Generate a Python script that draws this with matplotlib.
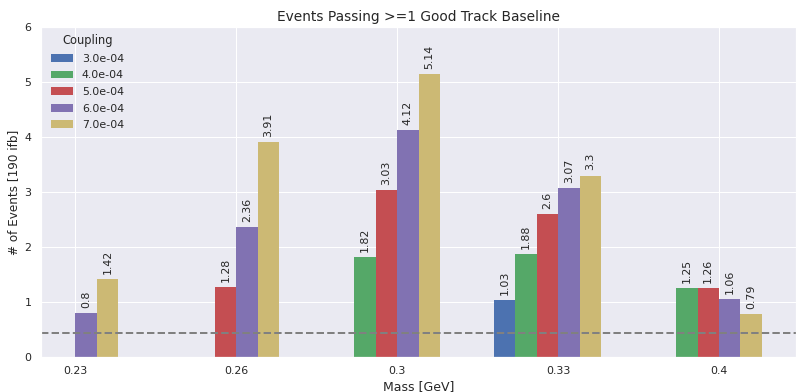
import numpy as np
import matplotlib
matplotlib.use('Agg')
import matplotlib.pyplot as plt
import seaborn as sns

masses = ['0.23', '0.26', '0.3', '0.33', '0.4']
couplings = ['3.0e-04', '4.0e-04', '5.0e-04', '6.0e-04', '7.0e-04']
nan = np.nan
c3e4 = [nan, nan, nan, 1.03, nan]
c4e4 = [nan, nan, 1.82, 1.88, 1.25]
c5e4 = [nan, 1.28, 3.03, 2.6, 1.26]
c6e4 = [0.8, 2.36, 4.12, 3.07, 1.06]
c7e4 = [1.42, 3.91, 5.14, 3.3, 0.79]
baseline = 0.43

colors = ['#4C72B0', '#55A868', '#C44E52', '#8172B2', '#CCB974']

sns.set_theme(style='darkgrid')
plt.rcParams['font.family'] = ['DejaVu Sans']

fig, ax = plt.subplots(figsize=(797 / 72, 392 / 72), dpi=72)
fig.subplots_adjust(left=41 / 797, right=0.999, bottom=1 - 357 / 392, top=1 - 27 / 392)

x = np.arange(len(masses))
w = 0.8 / 6
series = [c3e4, c4e4, c5e4, c6e4, c7e4]
n = len(series)
for i, (vals, lab) in enumerate(zip(series, couplings)):
    bars = ax.bar(x + (i - n / 2) * w, vals, w, color=colors[i], label=lab, linewidth=0)
    ax.bar_label(bars, labels=['' if np.isnan(v) else str(v) for v in vals],
                 rotation=90, padding=5, fontsize=11)

ax.axhline(baseline, color='gray', ls='--', lw=2)

ax.set_xticks(x)
ax.set_xticklabels(masses)
ax.set_ylim(0, 6)
ax.set_title('Events Passing >=1 Good Track Baseline', fontsize=13.8)
ax.set_xlabel('Mass [GeV]', fontsize=12.5)
ax.set_ylabel('# of Events [190 ifb]', fontsize=12)
ax.tick_params(labelsize=11)
ax.legend(title='Coupling', loc='upper left', bbox_to_anchor=(0.004, 1.0),
          fontsize=11, title_fontsize=11.5, frameon=False,
          labelspacing=0.6, borderaxespad=0.25)

fig.savefig('out.png', dpi=72)
